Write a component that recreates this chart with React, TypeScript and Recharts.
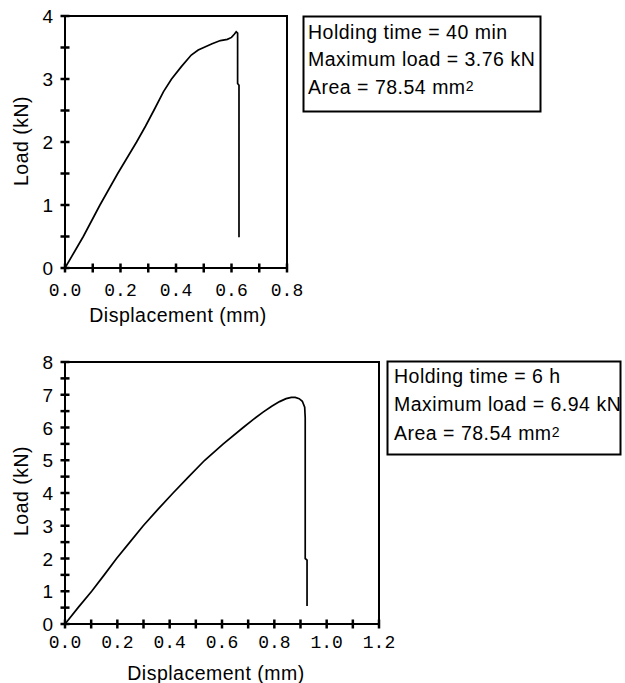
import React from 'react';
import { LineChart, Line, XAxis, YAxis, ReferenceArea } from 'recharts';

// Top specimen: holding time 40 min
const topDisplacement = [0, 0.033, 0.066, 0.096, 0.126, 0.158, 0.19, 0.224, 0.258, 0.29, 0.32, 0.355, 0.384, 0.42, 0.455, 0.48, 0.5, 0.53, 0.56, 0.585, 0.6, 0.61, 0.617, 0.622, 0.622, 0.627, 0.627];
const topLoad = [0, 0.25, 0.5, 0.75, 1.0, 1.25, 1.5, 1.75, 2.0, 2.25, 2.5, 2.8, 3.0, 3.2, 3.38, 3.46, 3.5, 3.56, 3.61, 3.63, 3.66, 3.71, 3.75, 3.73, 2.93, 2.9, 0.49];

// Bottom specimen: holding time 6 h
const bottomDisplacement = [0, 0.05, 0.102, 0.15, 0.197, 0.248, 0.299, 0.355, 0.413, 0.473, 0.534, 0.605, 0.681, 0.72, 0.757, 0.79, 0.82, 0.845, 0.865, 0.88, 0.895, 0.907, 0.916, 0.918, 0.918, 0.925, 0.925];
const bottomLoad = [0, 0.5, 1.0, 1.5, 2.0, 2.5, 3.0, 3.5, 4.0, 4.5, 5.0, 5.5, 6.0, 6.25, 6.47, 6.65, 6.79, 6.88, 6.92, 6.92, 6.88, 6.8, 6.62, 6.3, 2.0, 1.95, 0.55];

const topXTicks = [0, 0.1, 0.2, 0.3, 0.4, 0.5, 0.6, 0.7, 0.8];
const topXLabels = ['0.0', '', '0.2', '', '0.4', '', '0.6', '', '0.8'];
const topYTicks = [0, 0.5, 1, 1.5, 2, 2.5, 3, 3.5, 4];
const topYLabels = ['0', '', '1', '', '2', '', '3', '', '4'];

const bottomXTicks = [0, 0.1, 0.2, 0.3, 0.4, 0.5, 0.6, 0.7, 0.8, 0.9, 1.0, 1.1, 1.2];
const bottomXLabels = ['0.0', '', '0.2', '', '0.4', '', '0.6', '', '0.8', '', '1.0', '', '1.2'];
const bottomYTicks = [0, 0.5, 1, 1.5, 2, 2.5, 3, 3.5, 4, 4.5, 5, 5.5, 6, 6.5, 7, 7.5, 8];
const bottomYLabels = ['0', '', '1', '', '2', '', '3', '', '4', '', '5', '', '6', '', '7', '', '8'];

const topInfo = ['Holding time = 40 min', 'Maximum load = 3.76 kN', 'Area = 78.54 mm'];
const bottomInfo = ['Holding time = 6 h', 'Maximum load = 6.94 kN', 'Area = 78.54 mm'];
const superscript = '2';
const xTitle = 'Displacement (mm)';
const yTitle = 'Load (kN)';

const SANS = '"Liberation Sans", Arial, Helvetica, sans-serif';
const MONO = '"Liberation Mono", "DejaVu Sans Mono", monospace';

const topData = topDisplacement.map((x, i) => ({ x, y: topLoad[i] }));
const bottomData = bottomDisplacement.map((x, i) => ({ x, y: bottomLoad[i] }));

const findLabel = (ticks: number[], labels: string[], v: number) => {
  const i = ticks.findIndex((t) => Math.abs(t - v) < 1e-9);
  return i >= 0 ? labels[i] : '';
};

const makeXTick = (ticks: number[], labels: string[], labelDy: number) => (props: any) => {
  const { x, y, payload } = props;
  const label = findLabel(ticks, labels, payload.value);
  return (
    <g>
      <line x1={x} x2={x} y1={y - 4.5} y2={y + 4.5} stroke="#000" strokeWidth={2.5} />
      {label ? (
        <text x={x} y={y + labelDy} textAnchor="middle" fontFamily={MONO} fontSize={18} fill="#000">
          {label}
        </text>
      ) : null}
    </g>
  );
};

const makeYTick = (ticks: number[], labels: string[]) => (props: any) => {
  const { x, y, payload } = props;
  const label = findLabel(ticks, labels, payload.value);
  return (
    <g>
      <line x1={x - 4.5} x2={x + 4.5} y1={y} y2={y} stroke="#000" strokeWidth={2.5} />
      {label ? (
        <text x={x - 12} y={y + 7} textAnchor="end" fontFamily={SANS} fontSize={19} fill="#000">
          {label}
        </text>
      ) : null}
    </g>
  );
};

const InfoBox = ({ x, y, w, h, lines, baselines, tx }: any) => (
  <g>
    <rect x={x} y={y} width={w} height={h} fill="#fff" stroke="#000" strokeWidth={2} />
    {lines.map((l: string, i: number) => (
      <text key={i} x={tx} y={baselines[i]} fontFamily={SANS} fontSize={19.5} letterSpacing={0.5} fill="#000">
        {l}
        {i === lines.length - 1 ? (
          <tspan fontSize={14} dy={-3}>
            {superscript}
          </tspan>
        ) : null}
      </text>
    ))}
  </g>
);

const YW = 50;
const XH = 40;

export default function App() {
  return (
    <div style={{ position: 'absolute', left: 0, top: 0, width: 625, height: 683, background: '#fff', overflow: 'hidden' }}>
      <div style={{ position: 'absolute', left: 0, top: 0 }}>
        <LineChart width={320} height={340} data={topData} margin={{ top: 16, right: 33, bottom: 72 - XH, left: 65 - YW }}>
          <XAxis
            type="number"
            dataKey="x"
            domain={[0, 0.8]}
            ticks={topXTicks}
            interval={0}
            height={XH}
            tickSize={0}
            tickMargin={0}
            axisLine={{ stroke: '#000', strokeWidth: 2 }}
            tickLine={false}
            tick={makeXTick(topXTicks, topXLabels, 28)}
            allowDataOverflow
          />
          <YAxis
            type="number"
            dataKey="y"
            domain={[0, 4]}
            ticks={topYTicks}
            interval={0}
            width={YW}
            tickSize={0}
            tickMargin={0}
            axisLine={{ stroke: '#000', strokeWidth: 2 }}
            tickLine={false}
            tick={makeYTick(topYTicks, topYLabels)}
            allowDataOverflow
          />
          <ReferenceArea x1={0} x2={0.8} y1={0} y2={4} fill="none" fillOpacity={0} stroke="#000" strokeWidth={2} />
          <Line type="linear" dataKey="y" stroke="#000" strokeWidth={1.7} dot={false} isAnimationActive={false} />
        </LineChart>
      </div>
      <div style={{ position: 'absolute', left: 0, top: 340 }}>
        <LineChart width={400} height={343} data={bottomData} margin={{ top: 22, right: 21, bottom: 59 - XH, left: 65 - YW }}>
          <XAxis
            type="number"
            dataKey="x"
            domain={[0, 1.2]}
            ticks={bottomXTicks}
            interval={0}
            height={XH}
            tickSize={0}
            tickMargin={0}
            axisLine={{ stroke: '#000', strokeWidth: 2 }}
            tickLine={false}
            tick={makeXTick(bottomXTicks, bottomXLabels, 24)}
            allowDataOverflow
          />
          <YAxis
            type="number"
            dataKey="y"
            domain={[0, 8]}
            ticks={bottomYTicks}
            interval={0}
            width={YW}
            tickSize={0}
            tickMargin={0}
            axisLine={{ stroke: '#000', strokeWidth: 2 }}
            tickLine={false}
            tick={makeYTick(bottomYTicks, bottomYLabels)}
            allowDataOverflow
          />
          <ReferenceArea x1={0} x2={1.2} y1={0} y2={8} fill="none" fillOpacity={0} stroke="#000" strokeWidth={2} />
          <Line type="linear" dataKey="y" stroke="#000" strokeWidth={1.7} dot={false} isAnimationActive={false} />
        </LineChart>
      </div>
      <svg width={625} height={683} style={{ position: 'absolute', left: 0, top: 0, pointerEvents: 'none' }}>
        <text transform="translate(28,141) rotate(-90)" textAnchor="middle" fontFamily={SANS} fontSize={19.5} letterSpacing={0.5} fill="#000">
          {yTitle}
        </text>
        <text transform="translate(28,491) rotate(-90)" textAnchor="middle" fontFamily={SANS} fontSize={19.5} letterSpacing={0.5} fill="#000">
          {yTitle}
        </text>
        <text x={178} y={322} textAnchor="middle" fontFamily={SANS} fontSize={19.5} letterSpacing={0.5} fill="#000">
          {xTitle}
        </text>
        <text x={216} y={679.5} textAnchor="middle" fontFamily={SANS} fontSize={19.5} letterSpacing={0.5} fill="#000">
          {xTitle}
        </text>
        <InfoBox x={303.5} y={16.5} w={237} h={95} lines={topInfo} baselines={[38.5, 66, 94]} tx={308} />
        <InfoBox x={387.5} y={361.5} w={233} h={93} lines={bottomInfo} baselines={[382.5, 410.5, 439.5]} tx={394} />
      </svg>
    </div>
  );
}
